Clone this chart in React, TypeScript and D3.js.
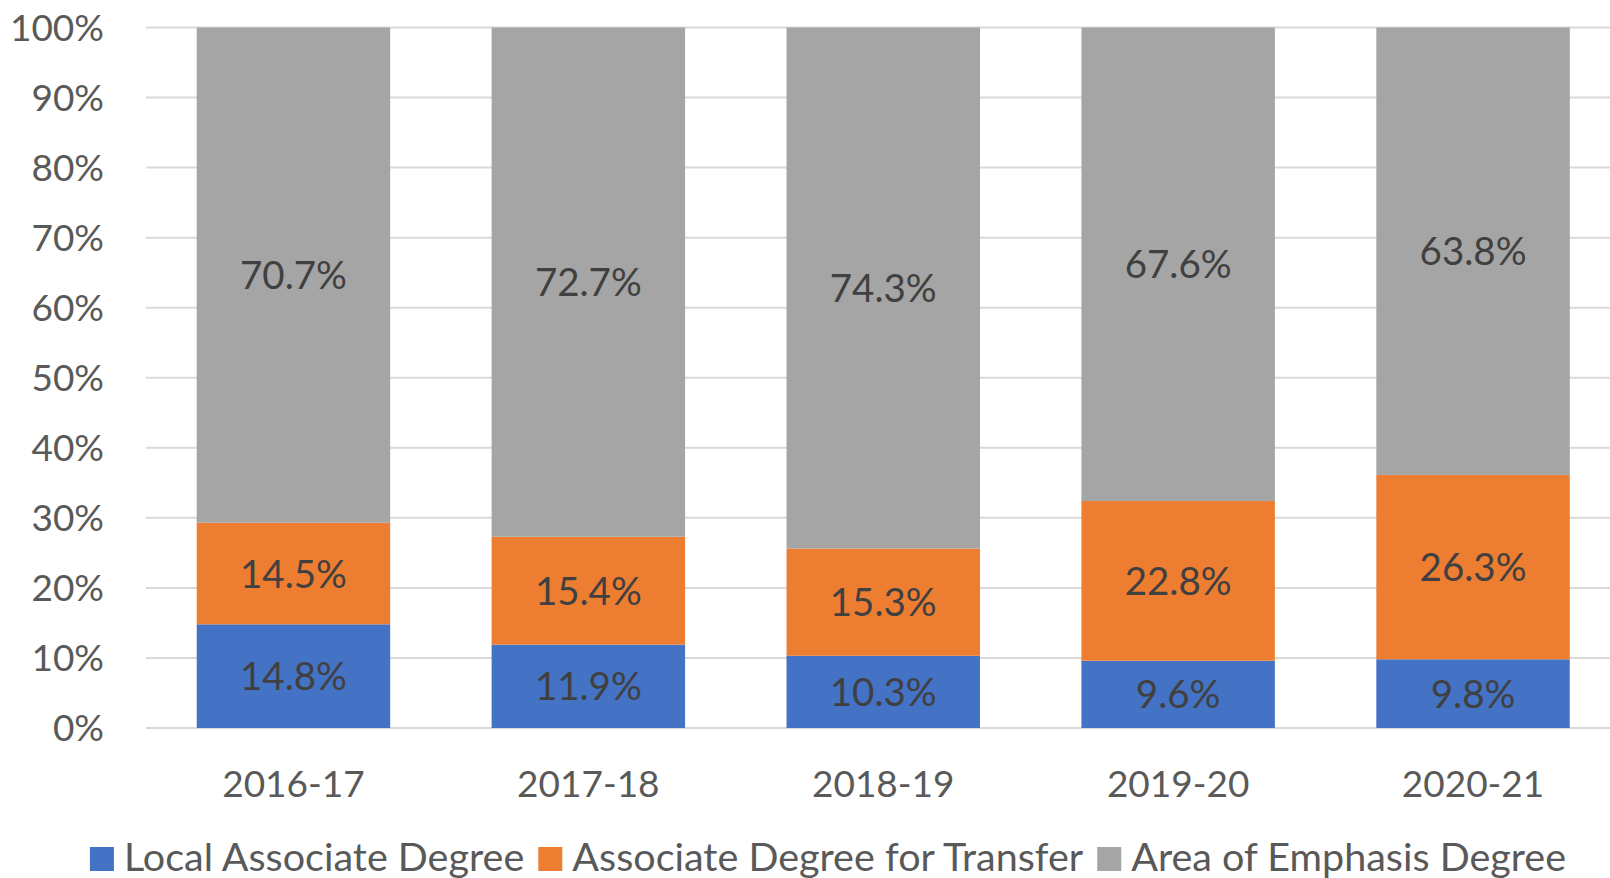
import React, { useEffect, useRef } from "react";
import * as d3 from "d3";

const years = ["2016-17", "2017-18", "2018-19", "2019-20", "2020-21"];
const seriesNames = ["Local Associate Degree", "Associate Degree for Transfer", "Area of Emphasis Degree"];
const localDeg = [14.8, 11.9, 10.3, 9.6, 9.8];
const transferDeg = [14.5, 15.4, 15.3, 22.8, 26.3];
const emphasisDeg = [70.7, 72.7, 74.3, 67.6, 63.8];
const colors = ["#4472C4", "#ED7D31", "#A5A5A5"];
const yTicks = [0, 0.1, 0.2, 0.3, 0.4, 0.5, 0.6, 0.7, 0.8, 0.9, 1];

const W = 1610;
const H = 878;
const FONT = "Lato, 'Open Sans', sans-serif";

export default function App() {
  const svgRef = useRef<SVGSVGElement>(null);

  useEffect(() => {
    const svg = d3.select(svgRef.current);
    svg.selectAll("*").remove();

    const x = d3.scaleBand().domain(years).range([146, 1620.5]).paddingInner(0.344).paddingOuter(0.172);
    const y = d3.scaleLinear().domain([0, 1]).range([728, 27.5]);

    // rows for the stack, normalised like a 100% stacked chart
    const rows = years.map((yr, i) => {
      const tot = localDeg[i] + transferDeg[i] + emphasisDeg[i];
      return {
        year: yr,
        s0: localDeg[i] / tot,
        s1: transferDeg[i] / tot,
        s2: emphasisDeg[i] / tot,
        v: [localDeg[i], transferDeg[i], emphasisDeg[i]],
      };
    });
    const stack = d3.stack<any>().keys(["s0", "s1", "s2"])(rows);

    // gridlines
    svg
      .append("g")
      .selectAll("line")
      .data(yTicks)
      .join("line")
      .attr("x1", 146)
      .attr("x2", W)
      .attr("y1", (d) => y(d))
      .attr("y2", (d) => y(d))
      .attr("stroke", "#D9D9D9")
      .attr("stroke-width", 2);

    // y labels
    svg
      .append("g")
      .selectAll("text")
      .data(yTicks)
      .join("text")
      .attr("x", 104)
      .attr("y", (d) => y(d) + 13)
      .attr("text-anchor", "end")
      .attr("font-family", FONT)
      .attr("font-size", 37)
      .attr("fill", "#595959")
      .text((d) => d3.format(".0%")(d));

    // bars
    stack.forEach((layer, si) => {
      const g = svg.append("g");
      g.selectAll("rect")
        .data(layer)
        .join("rect")
        .attr("x", (d: any) => x(d.data.year)!)
        .attr("y", (d: any) => y(d[1]))
        .attr("width", x.bandwidth())
        .attr("height", (d: any) => y(d[0]) - y(d[1]))
        .attr("fill", colors[si]);
      g.selectAll("text")
        .data(layer)
        .join("text")
        .attr("x", (d: any) => x(d.data.year)! + x.bandwidth() / 2)
        .attr("y", (d: any) => (y(d[0]) + y(d[1])) / 2 + 14)
        .attr("text-anchor", "middle")
        .attr("font-family", FONT)
        .attr("font-size", 38.5)
        .attr("fill", "#404040")
        .text((d: any) => d.data.v[si].toFixed(1) + "%");
    });

    // x labels
    svg
      .append("g")
      .selectAll("text")
      .data(years)
      .join("text")
      .attr("x", (d) => x(d)! + x.bandwidth() / 2)
      .attr("y", 797)
      .attr("text-anchor", "middle")
      .attr("font-family", FONT)
      .attr("font-size", 37)
      .attr("fill", "#595959")
      .text((d) => d);

    // legend, measured then centred
    const leg = svg.append("g");
    let cx = 0;
    seriesNames.forEach((name, i) => {
      leg.append("rect").attr("x", cx).attr("y", 847).attr("width", 24).attr("height", 24).attr("fill", colors[i]);
      const t = leg
        .append("text")
        .attr("x", cx + 34)
        .attr("y", 871)
        .attr("font-family", FONT)
        .attr("font-size", 39.5)
        .attr("fill", "#595959")
        .text(name);
      const w = (t.node() as SVGTextElement).getComputedTextLength();
      cx += 34 + w + 14;
    });
    const total = cx - 14;
    leg.attr("transform", `translate(${828 - total / 2},0)`);
  }, []);

  return (
    <svg
      ref={svgRef}
      width={W}
      height={H}
      style={{ position: "absolute", left: 0, top: 0, background: "#fff" }}
    />
  );
}
